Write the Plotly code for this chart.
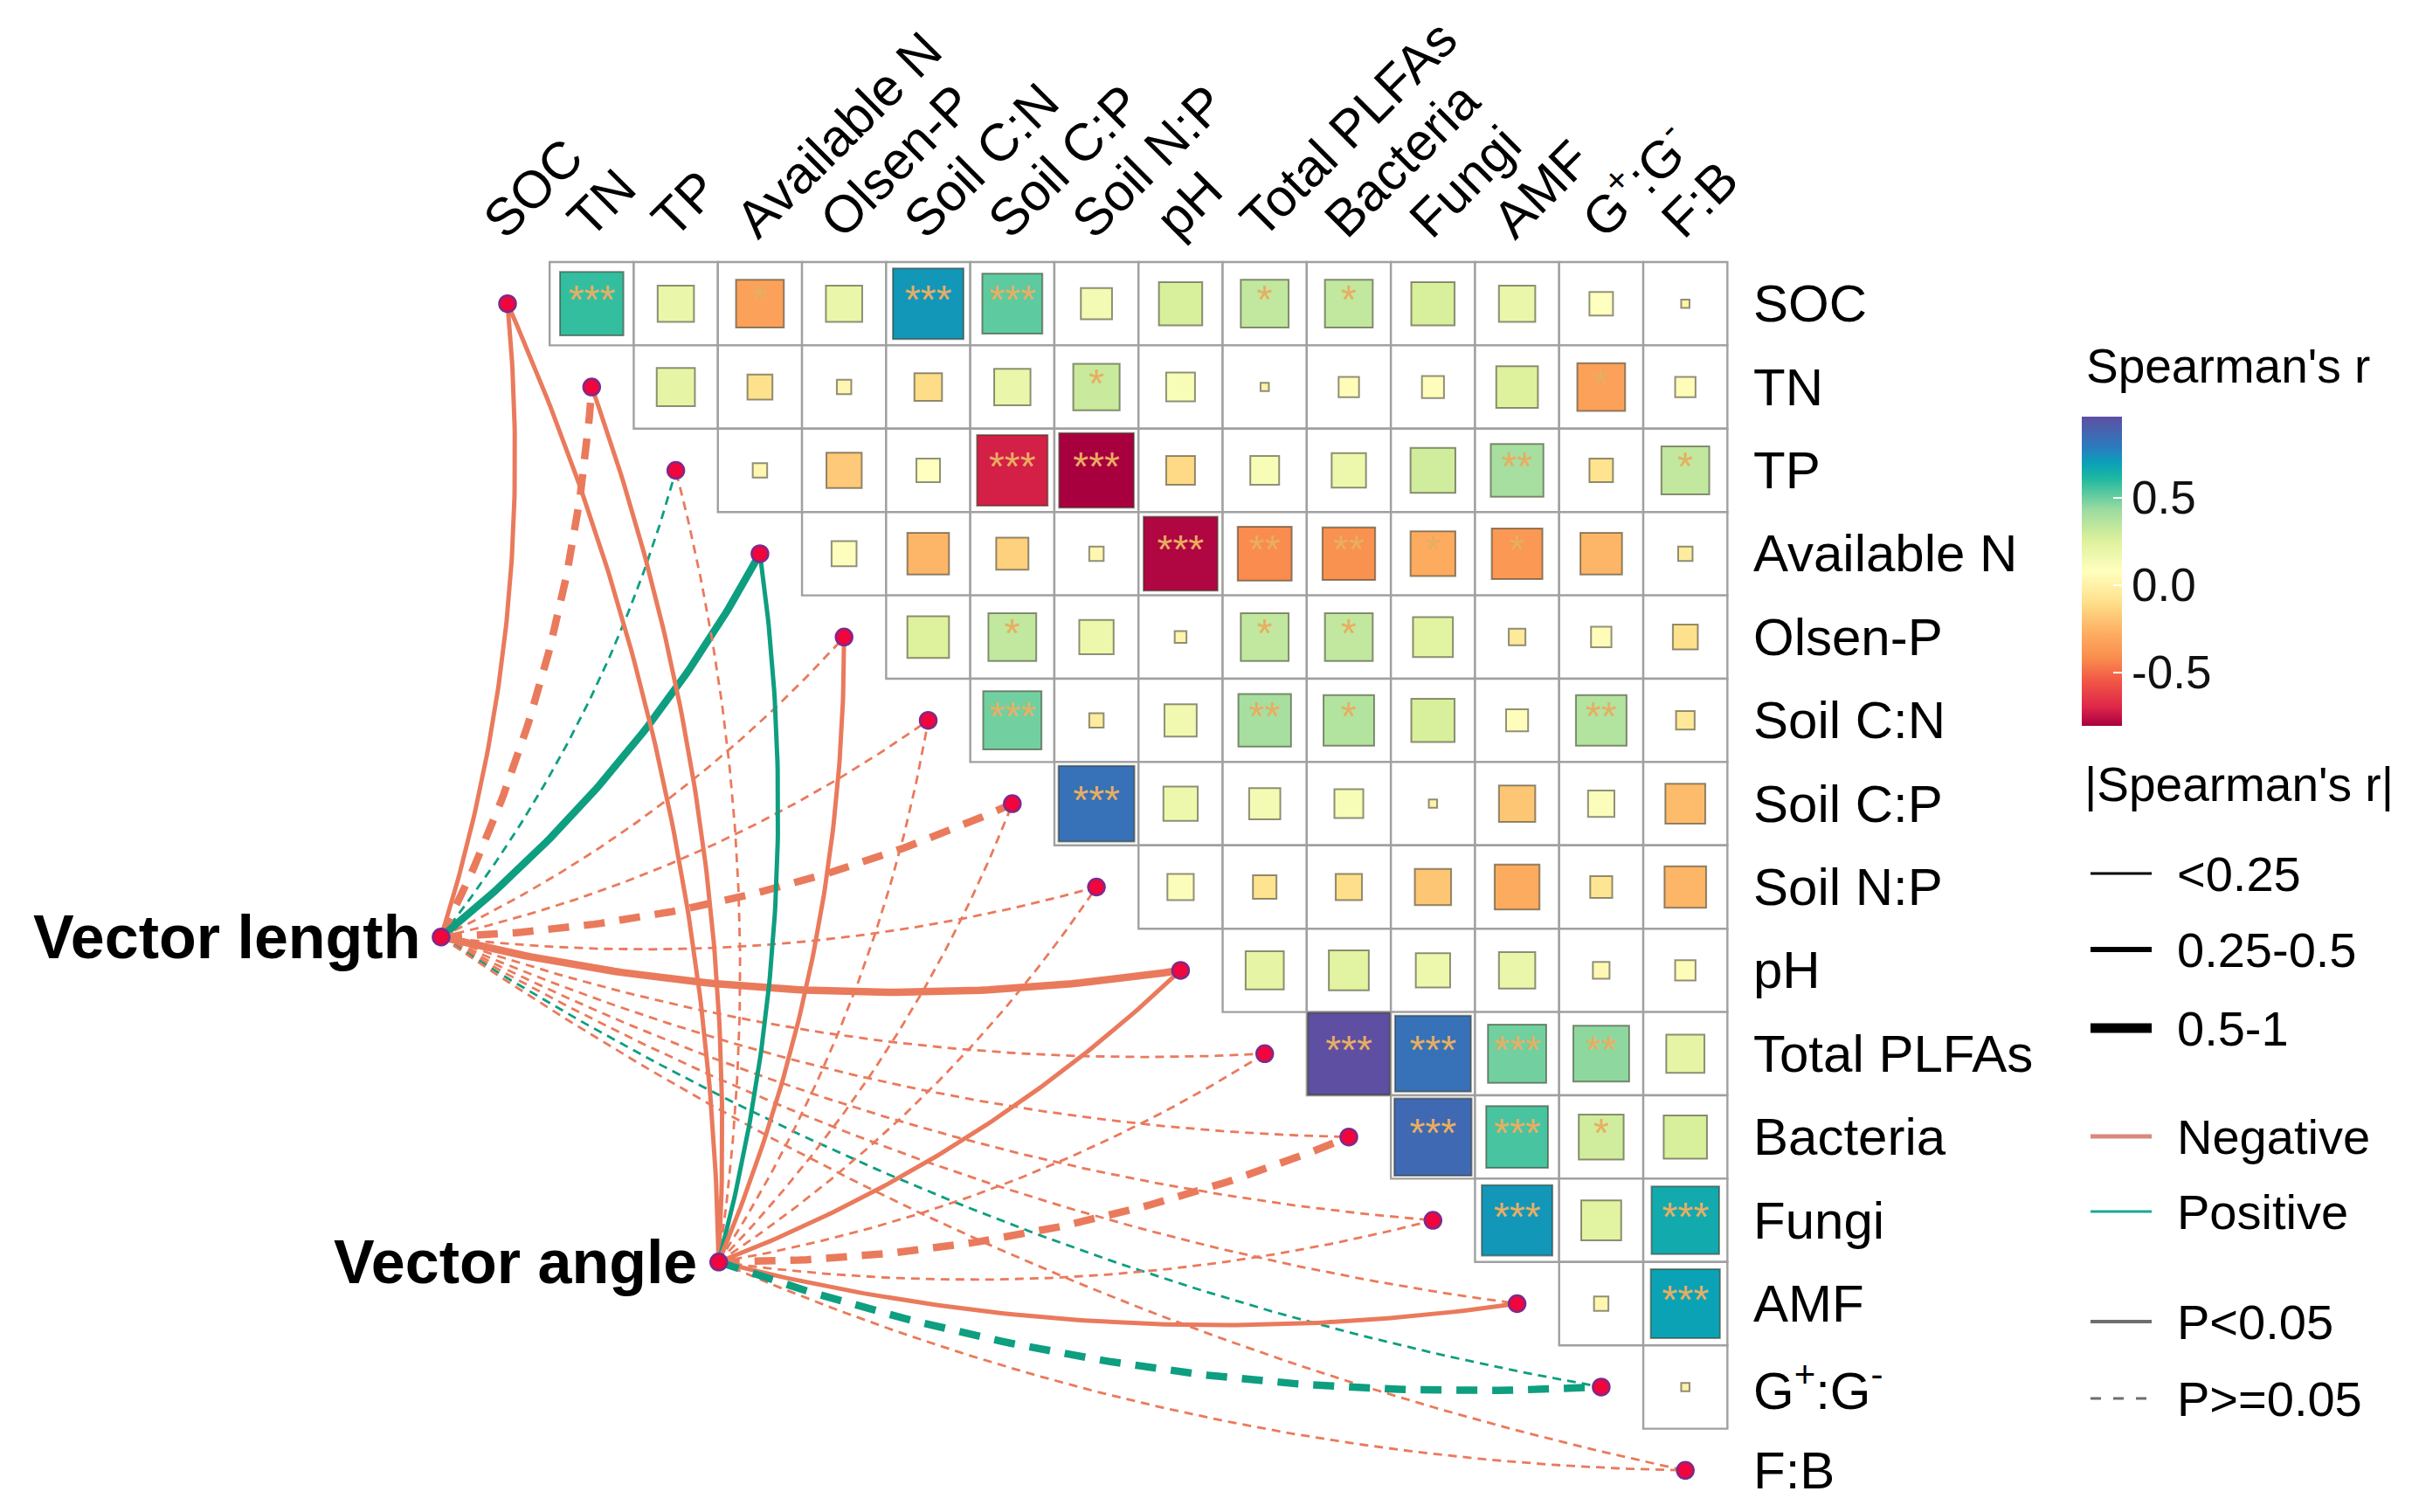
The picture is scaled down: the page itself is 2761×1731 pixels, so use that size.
import numpy as np
import plotly.graph_objects as go

FONT = "Liberation Sans, Arial, sans-serif"

# ---------------- data ----------------
variables = ["SOC", "TN", "TP", "Available N", "Olsen-P", "Soil C:N", "Soil C:P",
             "Soil N:P", "pH", "Total PLFAs", "Bacteria", "Fungi", "AMF",
             "G<sup>+</sup>:G<sup>-</sup>", "F:B"]

# Spearman's r (upper triangle): each row vs. every later variable
r_soc = [0.58, 0.19, -0.33, 0.19, 0.72, 0.52, 0.14, 0.27, 0.33, 0.33, 0.27, 0.19, 0.08, 0.01]
r_tn = [0.21, -0.09, 0.03, -0.11, 0.19, 0.31, 0.12, 0.01, 0.06, 0.07, 0.25, -0.33, 0.06]
r_tp = [0.03, -0.18, 0.08, -0.72, -0.806, -0.12, 0.12, 0.17, 0.29, 0.40, -0.08, 0.33]
r_avn = [0.09, -0.25, -0.15, 0.03, -0.79, -0.42, -0.40, -0.29, -0.37, -0.25, -0.03]
r_olsp = [0.25, 0.33, 0.17, 0.02, 0.33, 0.33, 0.23, -0.04, 0.06, -0.09]
r_cn = [0.49, -0.03, 0.15, 0.40, 0.37, 0.27, 0.07, 0.37, -0.05]
r_cp = [0.83, 0.17, 0.14, 0.12, 0.01, -0.19, 0.10, -0.23]
r_np = [0.10, -0.08, -0.10, -0.19, -0.29, -0.07, -0.25]
r_ph = [0.21, 0.23, 0.17, 0.19, 0.04, 0.06]
r_plfa = [0.964, 0.83, 0.49, 0.45, 0.21]
r_bact = [0.86, 0.55, 0.29, 0.27]
r_fungi = [0.72, 0.23, 0.66]
r_amf = [0.03, 0.69]
r_gg = [0.01]

# significance stars
s_soc = ["***", "", "*", "", "***", "***", "", "", "*", "*", "", "", "", ""]
s_tn = ["", "", "", "", "", "*", "", "", "", "", "", "*", ""]
s_tp = ["", "", "", "***", "***", "", "", "", "", "**", "", "*"]
s_avn = ["", "", "", "", "***", "**", "**", "*", "*", "", ""]
s_olsp = ["", "*", "", "", "*", "*", "", "", "", ""]
s_cn = ["***", "", "", "**", "*", "", "", "**", ""]
s_cp = ["***", "", "", "", "", "", "", ""]
s_np = ["", "", "", "", "", "", ""]
s_ph = ["", "", "", "", "", ""]
s_plfa = ["***", "***", "***", "**", ""]
s_bact = ["***", "***", "*", ""]
s_fungi = ["***", "", "***"]
s_amf = ["", "***"]
s_gg = [""]

r_rows = [r_soc, r_tn, r_tp, r_avn, r_olsp, r_cn, r_cp, r_np, r_ph, r_plfa, r_bact, r_fungi, r_amf, r_gg]
s_rows = [s_soc, s_tn, s_tp, s_avn, s_olsp, s_cn, s_cp, s_np, s_ph, s_plfa, s_bact, s_fungi, s_amf, s_gg]

# links from the two vector indices to every variable
r_classes = ["<0.25", "0.25-0.5", "0.5-1"]
vl_sign = [-1, -1, 1, 1, -1, -1, -1, -1, -1, -1, -1, -1, -1, 1, -1]
vl_class = [1, 2, 0, 2, 0, 0, 2, 0, 2, 0, 0, 0, 0, 0, 0]
vl_sig = [1, 0, 0, 1, 0, 0, 0, 0, 1, 0, 0, 0, 0, 0, 0]
va_sign = [-1, -1, -1, 1, -1, -1, -1, -1, -1, -1, -1, -1, -1, 1, -1]
va_class = [1, 1, 0, 1, 1, 0, 0, 0, 1, 0, 2, 0, 1, 2, 0]
va_sig = [1, 1, 0, 1, 1, 0, 0, 0, 1, 0, 0, 0, 1, 0, 0]

# ---------------- layout helpers ----------------
W, H = 2761, 1731
PAD = 8                      # default page margin around the plot div
FW, FH = W - 2 * PAD, H - 2 * PAD
X0_PX, PPU_X = 581.0, 96.3
Y0_PX, PPU_Y = 347.7, 95.4


def px_x(px):
    return (px - X0_PX) / PPU_X


def px_y(py):
    return -(py - Y0_PX) / PPU_Y


def paper_x(px):
    return (px - PAD) / FW


def paper_y(py):
    return 1 - (py - PAD) / FH


CELL_PX = min(PPU_X, PPU_Y)
anchor_vl = (-0.79, -7.60)
anchor_va = (2.51, -11.50)

NEG = "#EA7A5C"
POS = "#0E9E80"
widths = [2.8, 5.0, 8.5]

colorscale = [[0.0, "#A8003F"], [0.06, "#DE2649"], [0.15, "#F25A45"], [0.22, "#F98D4E"],
              [0.3, "#FDAE61"], [0.4, "#FEE08B"], [0.5, "#FFFFBF"], [0.6, "#DDF19C"],
              [0.7, "#9ADBA0"], [0.8, "#1FB8A0"], [0.85, "#0AA0B8"], [0.9, "#2A7CBE"],
              [1.0, "#5E4FA2"]]
CMIN, CMAX = -0.806, 0.964

fig = go.Figure()
shapes = []
annotations = []

# grid cells
n = len(variables)
for i in range(n):
    for j in range(i + 1, n):
        shapes.append(dict(type="rect", xref="x", yref="y", x0=j - 0.5, x1=j + 0.5,
                           y0=-i - 0.5, y1=-i + 0.5, line=dict(color="#A0A0A0", width=2.4),
                           fillcolor="white", layer="below"))

# squares
sx, sy, sr, ss = [], [], [], []
tx, ty, tt = [], [], []
for i, row in enumerate(r_rows):
    for k, r in enumerate(row):
        j = i + 1 + k
        sx.append(j)
        sy.append(-i)
        sr.append(r)
        ss.append(np.sqrt(abs(r)) * CELL_PX)
        if s_rows[i][k]:
            tx.append(j)
            ty.append(-i)
            tt.append(s_rows[i][k])

fig.add_trace(go.Scatter(
    x=sx, y=sy, mode="markers",
    marker=dict(symbol="square", size=ss, opacity=1, color=sr, colorscale=colorscale,
                cmin=CMIN, cmax=CMAX,
                line=dict(color="rgba(55,55,35,0.55)", width=2),
                colorbar=dict(x=paper_x(2383), xanchor="left", y=paper_y(477), yanchor="top",
                              len=354 / FH, lenmode="fraction", thickness=46, thicknessmode="pixels",
                              xpad=0, ypad=0, outlinewidth=0,
                              tickvals=[-0.5, 0, 0.5], ticktext=["-0.5", "0.0", "0.5"],
                              ticks="inside", ticklen=10, tickwidth=2, tickcolor="white",
                              tickfont=dict(size=53, family=FONT, color="#111111"))),
    hoverinfo="skip", showlegend=False))

fig.add_trace(go.Scatter(
    x=tx, y=ty, mode="text", text=tt, textposition="middle center",
    textfont=dict(size=46, family=FONT, color="#E8AE62"), hoverinfo="skip", showlegend=False))


# links
def bezier(p0, p1, k=0.1, m=90):
    x0, y0 = p0
    x1, y1 = p1
    ddx, ddy = x1 - x0, y1 - y0
    cx = (x0 + x1) / 2 + k * ddy
    cy = (y0 + y1) / 2 - k * ddx
    t = np.linspace(0, 1, m)
    xs = (1 - t) ** 2 * x0 + 2 * (1 - t) * t * cx + t ** 2 * x1
    ys = (1 - t) ** 2 * y0 + 2 * (1 - t) * t * cy + t ** 2 * y1
    return xs, ys


def add_links(anchor, signs, classes, sigs):
    order = sorted(range(n), key=lambda q: classes[q])
    for q in order:
        xs, ys = bezier(anchor, (q, -q))
        w = widths[classes[q]]
        if sigs[q]:
            dash = "solid"
        else:
            dash = "10px,7px" if classes[q] == 0 else "24px,17px"
        fig.add_trace(go.Scatter(x=xs, y=ys, mode="lines",
                                 line=dict(color=POS if signs[q] > 0 else NEG, width=w, dash=dash),
                                 hoverinfo="skip", showlegend=False))


add_links(anchor_vl, vl_sign, vl_class, vl_sig)
add_links(anchor_va, va_sign, va_class, va_sig)

# nodes
fig.add_trace(go.Scatter(
    x=list(range(n)) + [anchor_vl[0], anchor_va[0]],
    y=[-i for i in range(n)] + [anchor_vl[1], anchor_va[1]],
    mode="markers", marker=dict(size=19, color="#F0063C", line=dict(color="#7D2A8C", width=2.5)),
    hoverinfo="skip", showlegend=False))

# axis labels (right and top)
for i, v in enumerate(variables):
    annotations.append(dict(x=px_x(2005), y=-i, xref="x", yref="y", text=v, showarrow=False,
                            xanchor="left", yanchor="middle",
                            font=dict(size=60, family=FONT, color="black")))
    annotations.append(dict(x=i - 0.45, y=0.63, xref="x", yref="y", text=v, showarrow=False,
                            xanchor="left", yanchor="bottom", textangle=-45,
                            font=dict(size=60, family=FONT, color="black")))

annotations.append(dict(x=-1.02, y=anchor_vl[1], xref="x", yref="y", text="<b>Vector length</b>",
                        showarrow=False, xanchor="right", yanchor="middle",
                        font=dict(size=70, family=FONT, color="black")))
annotations.append(dict(x=2.27, y=anchor_va[1], xref="x", yref="y", text="<b>Vector angle</b>",
                        showarrow=False, xanchor="right", yanchor="middle",
                        font=dict(size=70, family=FONT, color="black")))

# legends
annotations.append(dict(x=px_x(2386), y=px_y(419), xref="x", yref="y", text="Spearman's r",
                        showarrow=False, xanchor="left", yanchor="middle",
                        font=dict(size=55, family=FONT, color="black")))
annotations.append(dict(x=px_x(2384), y=px_y(898), xref="x", yref="y", text="|Spearman's r|",
                        showarrow=False, xanchor="left", yanchor="middle",
                        font=dict(size=55, family=FONT, color="black")))

legend_items = [
    (1000, "<0.25", "black", 3, "solid"),
    (1087, "0.25-0.5", "black", 6, "solid"),
    (1177, "0.5-1", "black", 11, "solid"),
    (1301, "Negative", "#D9897B", 5, "solid"),
    (1387, "Positive", "#1AA89B", 3, "solid"),
    (1513, "P<0.05", "#6E6E6E", 4, "solid"),
    (1601, "P>=0.05", "#6E6E6E", 3, "12px,14px"),
]
for py, label, col, lw, dash in legend_items:
    shapes.append(dict(type="line", xref="x", yref="y", x0=px_x(2393), x1=px_x(2463),
                       y0=px_y(py), y1=px_y(py), line=dict(color=col, width=lw, dash=dash)))
    annotations.append(dict(x=px_x(2490), y=px_y(py), xref="x", yref="y", text=label,
                            showarrow=False, xanchor="left", yanchor="middle",
                            font=dict(size=56, family=FONT, color="black")))

fig.update_layout(
    width=FW, height=FH, margin=dict(l=0, r=0, t=0, b=0),
    paper_bgcolor="white", plot_bgcolor="white", showlegend=False,
    xaxis=dict(range=[px_x(PAD), px_x(W - PAD)], visible=False, fixedrange=True),
    yaxis=dict(range=[px_y(H - PAD), px_y(PAD)], visible=False, fixedrange=True),
    shapes=shapes, annotations=annotations,
)

fig.write_html("out.html")
